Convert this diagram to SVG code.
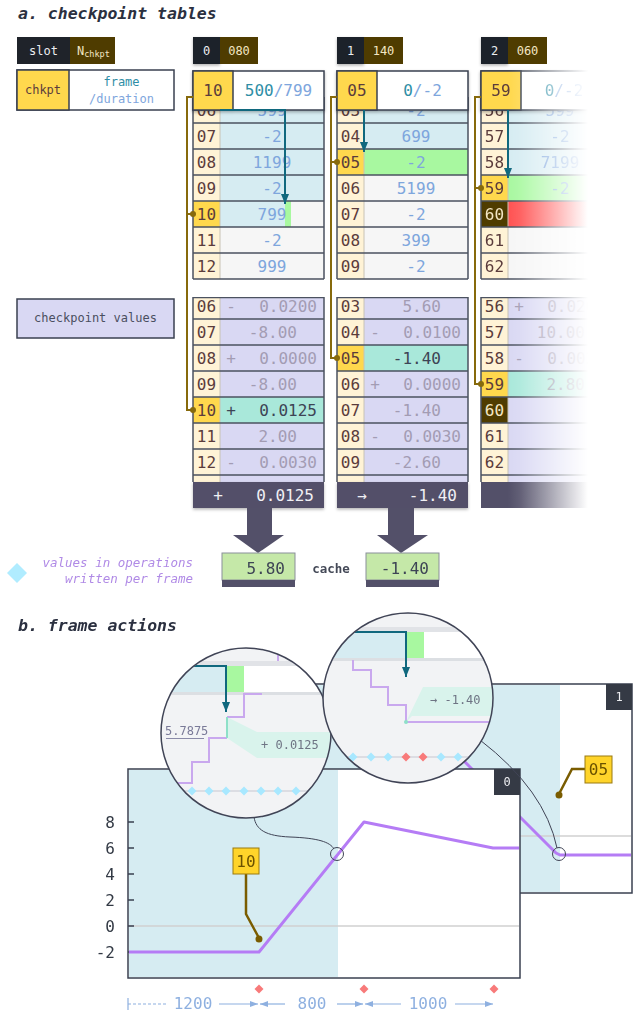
<svg xmlns="http://www.w3.org/2000/svg" width="644" height="1015" viewBox="0 0 644 1015">
<style>
text{font-family:'DejaVu Sans Mono','Liberation Mono',monospace}
.ttl{font-size:16.5px;font-weight:bold;font-style:italic;fill:#2b3040}
.s12{font-size:12px}
.wh{fill:#ecedf0;text-anchor:middle;font-size:12px}
.cr{fill:#f3e6c4;text-anchor:middle;font-size:12px}
.idx{fill:#5b3c3c;text-anchor:middle;font-size:16px}
.fv{fill:#7ea6dd;text-anchor:middle;font-size:16px}
.tl{fill:#2f8ea6}
.lb{fill:#7ea6dd}
.cv{fill:#a39cb3;font-size:16px;text-anchor:end}
.cs{fill:#a39cb3;font-size:16px;text-anchor:middle}
.hi{fill:#3d4455}
.bar{fill:#535069}
.bt{fill:#f0f0f4;font-size:16px}
.grid{stroke:#4b5260;stroke-width:1.5;fill:none}
.sep{stroke:#c8c2b4;stroke-width:1}
.olive{stroke:#876a0c;stroke-width:2;fill:none}
.odot{fill:#876a0c}
.teal{stroke:#10687e;stroke-width:2;fill:none}
.box{stroke:#3a4050;stroke-width:1.5}
.cream{fill:#fff3d6}
.yel{fill:#ffd84d}
.blu{fill:#d6ecf2}
.wht{fill:#f6f6f6}
.grn{fill:#a8f8a0}
.lav{fill:#d9d8f3}
.mint{fill:#a9e8da}
.dark{fill:#1f232a}
.olv{fill:#4f3c00}
.ax{font-size:16px;fill:#333a45;text-anchor:end}
.dur{font-size:16px;fill:#8eb0e0;text-anchor:middle}
.durl{stroke:#8eb0e0;stroke-width:1.2;fill:none}
.purple{stroke:#b57cf5;stroke-width:3;fill:none;stroke-linejoin:round}
.stair{stroke:#c9a8ee;stroke-width:2;fill:none}
.dia{fill:#a8e8ff}
.red{fill:#f87a7a}
.lens{fill:none;stroke:#404456;stroke-width:1.5}
.thin{fill:none;stroke:#404456;stroke-width:1}
.lbl{fill:#ffd42a;stroke:#9a7a10;stroke-width:1}
.lblt{fill:#6b5200;font-size:16px;text-anchor:middle}
.stem{stroke:#7a5c00;stroke-width:2.5;fill:none}
.lt{fill:#6e7484;font-size:12px}
</style>
<defs>
<filter id="sh" x="-10%" y="-30%" width="120%" height="170%"><feDropShadow dx="0" dy="1.5" stdDeviation="1.5" flood-color="#000" flood-opacity="0.3"/></filter>
<marker id="th" viewBox="0 0 10 8" refX="10" refY="4" markerWidth="10" markerHeight="8" markerUnits="userSpaceOnUse" orient="auto"><path d="M0,0L10,4L0,8z" fill="#10687e"/></marker>
<marker id="dh" viewBox="0 0 8 6" refX="8" refY="3" markerWidth="8" markerHeight="6" markerUnits="userSpaceOnUse" orient="auto"><path d="M0,0L8,3L0,6z" fill="#8eb0e0"/></marker>
<path id="dm" d="M0,-4.5L4.5,0L0,4.5L-4.5,0z"/>
<clipPath id="clipV"><rect x="0" y="297" width="644" height="220"/></clipPath>
<clipPath id="lc1"><circle cx="246" cy="733" r="84.5"/></clipPath>
<clipPath id="lc2"><circle cx="408" cy="698" r="84.5"/></clipPath>
<linearGradient id="fadeG" gradientUnits="userSpaceOnUse" x1="508" y1="0" x2="588" y2="0"><stop offset="0" stop-color="#fff"/><stop offset="0.15" stop-color="#e8e8e8"/><stop offset="1" stop-color="#000"/></linearGradient>
<mask id="fade" maskUnits="userSpaceOnUse" x="460" y="60" width="184" height="470"><rect x="460" y="60" width="184" height="470" fill="url(#fadeG)"/></mask>
</defs>

<rect width="644" height="1015" fill="#fff"/>

<g id="title-a"><text x="18" y="19" class="ttl">a. checkpoint tables</text></g>

<g id="legend-slot">
<rect x="17" y="37" width="53" height="27" class="dark"/>
<rect x="70" y="37" width="45" height="27" class="olv"/>
<text x="43.5" y="55" class="wh">slot</text>
<text x="77" y="55" fill="#f3e6c4" font-size="12px">N<tspan font-size="8.5px" dy="2">chkpt</tspan></text>
</g>

<g id="legend-chkpt">
<rect x="17" y="70" width="157" height="40" fill="#fff" class="box"/>
<rect x="17" y="70" width="52" height="40" class="yel box"/>
<text x="43" y="94" class="s12" fill="#5b3c3c" text-anchor="middle">chkpt</text>
<text x="121.5" y="86" class="s12 tl" text-anchor="middle">frame</text>
<text x="121.5" y="103" class="s12 lb" text-anchor="middle">/duration</text>
</g>

<g id="legend-values">
<rect x="17" y="299" width="157" height="39" class="lav box"/>
<text x="95.5" y="322" class="s12" fill="#4a4f60" text-anchor="middle">checkpoint values</text>
</g>

<!-- table 0 -->
<g id="slot-0">
<rect x="193" y="37" width="27" height="27" class="dark" filter="url(#sh)"/>
<rect x="220" y="37" width="38" height="27" class="olv"/>
<text x="206.5" y="55" class="wh">0</text>
<text x="239" y="55" class="cr">080</text>
</g>
<g id="frames-0">
<rect x="193" y="97" width="27" height="182" class="cream"/>
<rect x="220" y="97" width="104" height="104" class="blu"/>
<rect x="220" y="201" width="65" height="26" class="blu"/>
<rect x="285" y="201" width="6" height="26" class="grn"/>
<rect x="291" y="201" width="33" height="26" class="wht"/>
<rect x="220" y="227" width="104" height="52" class="wht"/>
<rect x="193" y="201" width="27" height="26" class="yel"/>
<line x1="220" y1="97" x2="220" y2="279" class="sep"/>
<path class="grid" d="M193,123H324M193,149H324M193,175H324M193,201H324M193,227H324M193,253H324M193,279H324M324,97V279M193,97V279"/>
<text x="206.5" y="116" class="idx">06</text><text x="272" y="116" class="fv">599</text>
<text x="206.5" y="142" class="idx">07</text><text x="272" y="142" class="fv">-2</text>
<text x="206.5" y="168" class="idx">08</text><text x="272" y="168" class="fv">1199</text>
<text x="206.5" y="194" class="idx">09</text><text x="272" y="194" class="fv">-2</text>
<text x="206.5" y="220" class="idx">10</text><text x="272" y="220" class="fv">799</text>
<text x="206.5" y="246" class="idx">11</text><text x="272" y="246" class="fv">-2</text>
<text x="206.5" y="272" class="idx">12</text><text x="272" y="272" class="fv">999</text>
<g filter="url(#sh)">
<rect x="193" y="71" width="131" height="39" fill="#fff" class="box"/>
<rect x="193" y="71" width="40" height="39" class="yel box"/>
</g>
<text x="213" y="96" class="idx">10</text>
<text x="278.5" y="96" class="fv"><tspan class="tl">500</tspan>/799</text>
<path class="teal" d="M220,110H285V204" marker-end="url(#th)"/>
</g>
<g id="values-0">
<g clip-path="url(#clipV)">
<rect x="193" y="293" width="27" height="189" class="cream"/>
<rect x="220" y="293" width="104" height="189" class="lav"/>
<rect x="193" y="397" width="27" height="26" class="yel"/>
<rect x="220" y="397" width="104" height="26" class="mint"/>
<line x1="220" y1="293" x2="220" y2="482" class="sep"/>
<path class="grid" d="M193,297.5H324M193,319H324M193,345H324M193,371H324M193,397H324M193,423H324M193,449H324M193,475H324M324,293V482M193,293V482"/>
<text x="206.5" y="312" class="idx">06</text><text x="231" y="312" class="cs">-</text><text x="317" y="312" class="cv">0.0200</text>
<text x="206.5" y="338" class="idx">07</text><text x="297" y="338" class="cv">-8.00</text>
<text x="206.5" y="364" class="idx">08</text><text x="231" y="364" class="cs">+</text><text x="317" y="364" class="cv">0.0000</text>
<text x="206.5" y="390" class="idx">09</text><text x="297" y="390" class="cv">-8.00</text>
<text x="206.5" y="416" class="idx">10</text><text x="231" y="416" class="cs hi">+</text><text x="317" y="416" class="cv hi">0.0125</text>
<text x="206.5" y="442" class="idx">11</text><text x="297" y="442" class="cv">2.00</text>
<text x="206.5" y="468" class="idx">12</text><text x="231" y="468" class="cs">-</text><text x="317" y="468" class="cv">0.0030</text>
</g>
<rect x="193" y="482" width="131" height="26" class="bar" filter="url(#sh)"/>
<text x="218" y="501" class="bt" text-anchor="middle">+</text>
<text x="314" y="501" class="bt" text-anchor="end">0.0125</text>
</g>

<!-- table 1 -->
<g id="slot-1">
<rect x="337" y="37" width="27" height="27" class="dark" filter="url(#sh)"/>
<rect x="364" y="37" width="39" height="27" class="olv"/>
<text x="350.5" y="55" class="wh">1</text>
<text x="383.5" y="55" class="cr">140</text>
</g>
<g id="frames-1">
<rect x="337" y="97" width="27" height="182" class="cream"/>
<rect x="364" y="97" width="104" height="52" class="blu"/>
<rect x="364" y="149" width="104" height="26" class="grn"/>
<rect x="364" y="175" width="104" height="104" class="wht"/>
<rect x="337" y="149" width="27" height="26" class="yel"/>
<line x1="364" y1="97" x2="364" y2="279" class="sep"/>
<path class="grid" d="M337,123H468M337,149H468M337,175H468M337,201H468M337,227H468M337,253H468M337,279H468M468,97V279M337,97V279"/>
<text x="350.5" y="116" class="idx">03</text><text x="416" y="116" class="fv">-2</text>
<text x="350.5" y="142" class="idx">04</text><text x="416" y="142" class="fv">699</text>
<text x="350.5" y="168" class="idx">05</text><text x="416" y="168" class="fv">-2</text>
<text x="350.5" y="194" class="idx">06</text><text x="416" y="194" class="fv">5199</text>
<text x="350.5" y="220" class="idx">07</text><text x="416" y="220" class="fv">-2</text>
<text x="350.5" y="246" class="idx">08</text><text x="416" y="246" class="fv">399</text>
<text x="350.5" y="272" class="idx">09</text><text x="416" y="272" class="fv">-2</text>
<g filter="url(#sh)">
<rect x="337" y="71" width="131" height="39" fill="#fff" class="box"/>
<rect x="337" y="71" width="40" height="39" class="yel box"/>
</g>
<text x="357" y="96" class="idx">05</text>
<text x="422.5" y="96" class="fv"><tspan class="tl">0</tspan>/-2</text>
<path class="teal" d="M364,110V152" marker-end="url(#th)"/>
</g>
<g id="values-1">
<g clip-path="url(#clipV)">
<rect x="337" y="293" width="27" height="189" class="cream"/>
<rect x="364" y="293" width="104" height="189" class="lav"/>
<rect x="337" y="345" width="27" height="26" class="yel"/>
<rect x="364" y="345" width="104" height="26" class="mint"/>
<line x1="364" y1="293" x2="364" y2="482" class="sep"/>
<path class="grid" d="M337,297.5H468M337,319H468M337,345H468M337,371H468M337,397H468M337,423H468M337,449H468M337,475H468M468,293V482M337,293V482"/>
<text x="350.5" y="312" class="idx">03</text><text x="441" y="312" class="cv">5.60</text>
<text x="350.5" y="338" class="idx">04</text><text x="375" y="338" class="cs">-</text><text x="461" y="338" class="cv">0.0100</text>
<text x="350.5" y="364" class="idx">05</text><text x="441" y="364" class="cv hi">-1.40</text>
<text x="350.5" y="390" class="idx">06</text><text x="375" y="390" class="cs">+</text><text x="461" y="390" class="cv">0.0000</text>
<text x="350.5" y="416" class="idx">07</text><text x="441" y="416" class="cv">-1.40</text>
<text x="350.5" y="442" class="idx">08</text><text x="375" y="442" class="cs">-</text><text x="461" y="442" class="cv">0.0030</text>
<text x="350.5" y="468" class="idx">09</text><text x="441" y="468" class="cv">-2.60</text>
</g>
<rect x="337" y="482" width="131" height="26" class="bar" filter="url(#sh)"/>
<text x="362" y="501" class="bt" text-anchor="middle">→</text>
<text x="457" y="501" class="bt" text-anchor="end">-1.40</text>
</g>

<!-- table 2 -->
<g id="slot-2">
<rect x="481" y="37" width="27" height="27" class="dark" filter="url(#sh)"/>
<rect x="508" y="37" width="39" height="27" class="olv"/>
<text x="494.5" y="55" class="wh">2</text>
<text x="527.5" y="55" class="cr">060</text>
</g>
<g mask="url(#fade)">
<g id="frames-2">
<rect x="481" y="97" width="27" height="182" class="cream"/>
<rect x="508" y="97" width="104" height="78" class="blu"/>
<rect x="508" y="175" width="104" height="26" class="grn"/>
<rect x="508" y="201" width="104" height="26" fill="#ff5252"/>
<rect x="508" y="227" width="104" height="52" class="wht"/>
<rect x="481" y="175" width="27" height="26" class="yel"/>
<rect x="481" y="201" width="27" height="26" class="olv"/>
<line x1="508" y1="97" x2="508" y2="279" class="sep"/>
<path class="grid" d="M481,123H612M481,149H612M481,175H612M481,201H612M481,227H612M481,253H612M481,279H612M612,97V279M481,97V279"/>
<text x="494.5" y="116" class="idx">56</text><text x="560" y="116" class="fv">599</text>
<text x="494.5" y="142" class="idx">57</text><text x="560" y="142" class="fv">-2</text>
<text x="494.5" y="168" class="idx">58</text><text x="560" y="168" class="fv">7199</text>
<text x="494.5" y="194" class="idx">59</text><text x="560" y="194" class="fv">-2</text>
<text x="494.5" y="220" class="idx" style="fill:#f3e6c4">60</text>
<text x="494.5" y="246" class="idx">61</text>
<text x="494.5" y="272" class="idx">62</text>
<g filter="url(#sh)">
<rect x="481" y="71" width="131" height="39" fill="#fff" class="box"/>
<rect x="481" y="71" width="40" height="39" class="yel box"/>
</g>
<text x="501" y="96" class="idx">59</text>
<text x="564" y="96" class="fv"><tspan class="tl">0</tspan>/-2</text>
<path class="teal" d="M508,110V178" marker-end="url(#th)"/>
</g>
<g id="values-2">
<g clip-path="url(#clipV)">
<rect x="481" y="293" width="27" height="189" class="cream"/>
<rect x="508" y="293" width="104" height="189" class="lav"/>
<rect x="481" y="371" width="27" height="26" class="yel"/>
<rect x="508" y="371" width="104" height="26" class="mint"/>
<rect x="481" y="397" width="27" height="26" class="olv"/>
<line x1="508" y1="293" x2="508" y2="482" class="sep"/>
<path class="grid" d="M481,297.5H612M481,319H612M481,345H612M481,371H612M481,397H612M481,423H612M481,449H612M481,475H612M612,293V482M481,293V482"/>
<text x="494.5" y="312" class="idx">56</text><text x="519" y="312" class="cs">+</text><text x="605" y="312" class="cv">0.0200</text>
<text x="494.5" y="338" class="idx">57</text><text x="585" y="338" class="cv">10.00</text>
<text x="494.5" y="364" class="idx">58</text><text x="519" y="364" class="cs">-</text><text x="605" y="364" class="cv">0.0030</text>
<text x="494.5" y="390" class="idx">59</text><text x="585" y="390" class="cv" style="fill:#8a8fa0">2.80</text>
<text x="494.5" y="416" class="idx" style="fill:#f3e6c4">60</text>
<text x="494.5" y="442" class="idx">61</text>
<text x="494.5" y="468" class="idx">62</text>
</g>
<rect x="481" y="482" width="131" height="26" class="bar"/>
</g>
</g>

<g id="connectors-a">
<path class="olive" d="M193,97H187V410H193M187,214H193"/>
<circle class="odot" cx="193" cy="214" r="3"/>
<circle class="odot" cx="193" cy="410" r="3"/>
<path class="olive" d="M337,97H331V358H337M331,162H337"/>
<circle class="odot" cx="337" cy="162" r="3"/>
<circle class="odot" cx="337" cy="358" r="3"/>
<path class="olive" d="M481,97H475V384H481M475,188H481"/>
<circle class="odot" cx="481" cy="188" r="3"/>
<circle class="odot" cx="481" cy="384" r="3"/>
<polygon class="bar" points="247,508 272,508 272,535 284,535 258,553 233,535 247,535"/>
<polygon class="bar" points="388,508 414,508 414,535 428,535 401,553 377,535 388,535"/>
</g>

<g id="cache-0">
<rect x="222" y="553" width="73" height="27" fill="#c5e8a8" stroke="#8a8f9a" stroke-width="1"/>
<rect x="222" y="580" width="73" height="7" class="bar"/>
<text x="285" y="574" class="cv hi">5.80</text>
</g>
<g id="cache-label"><text x="331" y="573" font-size="12.5px" font-weight="bold" fill="#454a58" text-anchor="middle">cache</text></g>
<g id="cache-1">
<rect x="366" y="553" width="73" height="27" fill="#c5e8a8" stroke="#8a8f9a" stroke-width="1"/>
<rect x="366" y="580" width="73" height="7" class="bar"/>
<text x="429" y="574" class="cv hi">-1.40</text>
</g>
<g id="legend-ops">
<polygon points="17,563 27,573 17,583 7,573" fill="#b0ecff"/>
<text x="193" y="567" font-size="12.5px" font-style="italic" fill="#b08ae6" text-anchor="end">values in operations</text>
<text x="193" y="583" font-size="12.5px" font-style="italic" fill="#b08ae6" text-anchor="end">written per frame</text>
</g>

<g id="title-b"><text x="18" y="631" class="ttl">b. frame actions</text></g>

<g id="chart-1">
<rect x="240" y="684" width="392" height="209" fill="#fff" class="box"/>
<rect x="241" y="685" width="319" height="207" class="blu"/>
<line x1="241" y1="836" x2="631" y2="836" stroke="#d0d0d0" stroke-width="1.5"/>
<path class="purple" d="M430,727L556,853L560,855H631"/>
<circle cx="559" cy="854" r="6.5" class="thin"/>
<rect x="606" y="684" width="26" height="26" fill="#353a45"/>
<text x="619" y="701" class="wh">1</text>
</g>

<g id="chart-0">
<rect x="128" y="769" width="392" height="209" fill="#fff" class="box"/>
<rect x="129" y="770" width="209" height="207" class="blu"/>
<line x1="129" y1="926" x2="519" y2="926" stroke="#d0d0d0" stroke-width="1.5"/>
<path d="M128,822H134M128,848H134M128,874H134M128,900H134M128,926H134M128,952H134" stroke="#3a4050" stroke-width="1.5"/>
<text x="115" y="828" class="ax">8</text>
<text x="115" y="854" class="ax">6</text>
<text x="115" y="880" class="ax">4</text>
<text x="115" y="906" class="ax">2</text>
<text x="115" y="932" class="ax">0</text>
<text x="115" y="958" class="ax">-2</text>
<path class="purple" d="M129,952H259L364,822L493,848H519"/>
<circle cx="337" cy="854" r="6.5" class="thin"/>
<rect x="494" y="769" width="26" height="26" fill="#353a45"/>
<text x="507" y="786" class="wh">0</text>
</g>

<g id="connectors-b">
<path class="thin" d="M254,817C256,830 266,836 290,837C318,838 330,842 334,849"/>
<path class="thin" d="M480,740Q545,790 557,848"/>
</g>

<g id="lens-1">
<circle cx="246" cy="733" r="85" fill="#f2f3f5"/>
<g clip-path="url(#lc1)">
<rect x="160" y="661" width="175" height="5" fill="#e1e3e7"/>
<rect x="160" y="666" width="67" height="26" class="blu"/>
<rect x="227" y="666" width="17" height="26" class="grn"/>
<rect x="244" y="666" width="90" height="26" fill="#fff"/>
<rect x="160" y="692" width="175" height="3" fill="#dcdfe3"/>
<line x1="278" y1="645" x2="278" y2="661" class="stair"/>
<polygon points="227,717 257,732 332,732 332,758 257,758 227,738" fill="#d9f3ec"/>
<path class="stair" d="M262,694H244V717H227M227,738H209V762H192V783H160"/>
<line x1="227" y1="717" x2="227" y2="738" stroke="#8ee0c8" stroke-width="2"/>
<path class="teal" d="M160,666H226V712" marker-end="url(#th)"/>
<text x="165" y="735" class="s12" fill="#7a7a98">5.7875</text>
<line x1="166" y1="738.5" x2="204" y2="738.5" stroke="#8a8aa8" stroke-width="1"/>
<text x="261" y="749" class="lt">+ 0.0125</text>
<line x1="165" y1="791" x2="325" y2="791" stroke="#d4d6dc" stroke-width="1.5"/>
<use href="#dm" x="192" y="791" class="dia"/>
<use href="#dm" x="209" y="791" class="dia"/>
<use href="#dm" x="226" y="791" class="dia"/>
<use href="#dm" x="244" y="791" class="dia"/>
<use href="#dm" x="261" y="791" class="dia"/>
<use href="#dm" x="278" y="791" class="dia"/>
<use href="#dm" x="296" y="791" class="dia"/>
</g>
<circle cx="246" cy="733" r="85" class="lens"/>
</g>

<g id="lens-2">
<circle cx="408" cy="698" r="85" fill="#f2f3f5"/>
<g clip-path="url(#lc2)">
<rect x="322" y="627" width="175" height="5" fill="#e1e3e7"/>
<rect x="322" y="632" width="84" height="26" class="blu"/>
<rect x="406" y="632" width="18" height="26" class="grn"/>
<rect x="424" y="632" width="72" height="26" fill="#fff"/>
<rect x="322" y="658" width="175" height="3" fill="#dcdfe3"/>
<polygon points="406,722 423,687 494,687 494,716 412,716" fill="#d9f3ec"/>
<path class="stair" d="M353,660V670H371V687H388V705H406V722H494"/>
<circle cx="406" cy="722" r="2" fill="#8ee0c8"/>
<path class="teal" d="M322,632H406V677" marker-end="url(#th)"/>
<text x="430" y="704" class="lt">→ -1.40</text>
<line x1="328" y1="757" x2="488" y2="757" stroke="#d4d6dc" stroke-width="1.5"/>
<use href="#dm" x="353" y="757" class="dia"/>
<use href="#dm" x="371" y="757" class="dia"/>
<use href="#dm" x="388" y="757" class="dia"/>
<use href="#dm" x="406" y="757" class="red"/>
<use href="#dm" x="423" y="757" class="red"/>
<use href="#dm" x="441" y="757" class="dia"/>
<use href="#dm" x="458" y="757" class="dia"/>
</g>
<circle cx="408" cy="698" r="85" class="lens"/>
</g>

<g id="label-10">
<path class="stem" d="M246,874V914L259,938"/>
<circle cx="259" cy="939" r="3.5" fill="#7a5c00"/>
<rect x="233" y="848" width="26" height="26" class="lbl"/>
<text x="246" y="867" class="lblt">10</text>
</g>
<g id="label-05">
<path class="stem" d="M585,769H572L559,794"/>
<circle cx="559" cy="795" r="3.5" fill="#7a5c00"/>
<rect x="585" y="756" width="27" height="27" class="lbl"/>
<text x="598.5" y="775" class="lblt">05</text>
</g>

<g id="durations">
<line x1="128" y1="998" x2="128" y2="1010" class="durl"/>
<line x1="128" y1="1004" x2="167" y2="1004" class="durl" stroke-dasharray="3,2"/>
<text x="193" y="1009" class="dur">1200</text>
<line x1="219" y1="1004" x2="258" y2="1004" class="durl" marker-end="url(#dh)"/>
<line x1="285" y1="1004" x2="260" y2="1004" class="durl" marker-end="url(#dh)"/>
<text x="312" y="1009" class="dur">800</text>
<line x1="337" y1="1004" x2="363" y2="1004" class="durl" marker-end="url(#dh)"/>
<line x1="401" y1="1004" x2="365" y2="1004" class="durl" marker-end="url(#dh)"/>
<text x="428" y="1009" class="dur">1000</text>
<line x1="455" y1="1004" x2="493" y2="1004" class="durl" marker-end="url(#dh)"/>
<use href="#dm" x="259" y="989" class="red"/>
<use href="#dm" x="364" y="989" class="red"/>
<use href="#dm" x="494" y="989" class="red"/>
</g>
</svg>
